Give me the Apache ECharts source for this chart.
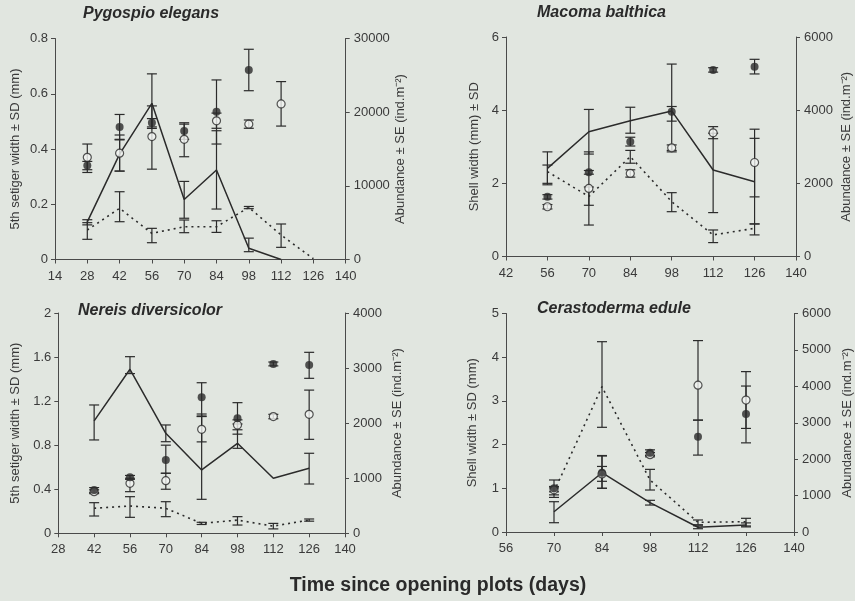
<!DOCTYPE html>
<html>
<head>
<meta charset="utf-8">
<script src="https://cdn.jsdelivr.net/npm/echarts@6/dist/echarts.min.js"></script>
<style>
  html, body { margin: 0; padding: 0; background: #e1e6e0; }
  #chart { width: 855px; height: 601px; }
</style>
</head>
<body>
<div id="chart"></div>
<script>
// Pygospio elegans
const pygDays = [28, 42, 56, 70, 84, 98, 112, 126]
const pygFilled = [0.34, 0.48, 0.495, 0.465, 0.535, 0.686, null, null]
const pygFilledLo = [0.315, 0.435, 0.48, 0.435, 0.418, 0.611, null, null]
const pygFilledHi = [0.355, 0.525, 0.51, 0.495, 0.65, 0.761, null, null]
const pygOpen = [0.37, 0.385, 0.445, 0.435, 0.502, 0.49, 0.563, null]
const pygOpenLo = [0.325, 0.32, 0.327, 0.372, 0.475, 0.475, 0.483, null]
const pygOpenHi = [0.418, 0.433, 0.556, 0.49, 0.53, 0.505, 0.644, null]
const pygSolid = [5100, 14300, 21200, 8150, 12150, 1520, 0, null]
const pygSolidLo = [4700, 12000, 17800, 5600, 6850, 1060, null, null]
const pygSolidHi = [5400, 16900, 25200, 10600, 17480, 2900, null, null]
const pygDashed = [4000, 6950, 3550, 4450, 4450, 7070, 3320, 100]
const pygDashedLo = [2740, 5130, 2280, 3640, 3680, 6900, 1650, null]
const pygDashedHi = [5000, 9200, 4230, 5360, 5260, 7200, 4820, null]

// Macoma balthica
const macDays = [56, 70, 84, 98, 112, 126]
const macFilled = [1.63, 2.30, 3.14, 3.96, 5.10, 5.19]
const macFilledLo = [1.57, 2.25, 3.02, 2.86, 5.04, 4.99]
const macFilledHi = [1.69, 2.35, 3.26, 5.26, 5.16, 5.39]
const macOpen = [1.36, 1.86, 2.27, 2.97, 3.38, 2.57]
const macOpenLo = [1.30, 0.86, 2.17, 2.90, 3.22, 1.63]
const macOpenHi = [1.42, 2.86, 2.37, 3.05, 3.55, 3.48]
const macSolid = [2410, 3410, 3710, 3980, 2365, 2045]
const macSolidLo = [1960, 2800, 3370, 3700, 1200, 890]
const macSolidHi = [2860, 4020, 4080, 4100, 3370, 3230]
const macDashed = [2320, 1640, 2730, 1500, 590, 770]
const macDashedLo = [2000, 1400, 2550, 1225, 380, 590]
const macDashedHi = [2500, 1900, 2900, 1745, 725, 890]

// Nereis diversicolor
const nerDays = [42, 56, 70, 84, 98, 112, 126]
const nerFilled = [0.393, 0.508, 0.665, 1.235, 1.044, 1.537, 1.528]
const nerFilledLo = [0.37, 0.49, 0.545, 1.065, 0.90, 1.52, 1.407]
const nerFilledHi = [0.415, 0.525, 0.80, 1.367, 1.186, 1.555, 1.643]
const nerOpen = [0.378, 0.454, 0.478, 0.944, 0.983, 1.06, 1.08]
const nerOpenLo = [0.36, 0.378, 0.40, 0.83, 0.94, 1.04, 0.853]
const nerOpenHi = [0.395, 0.50, 0.545, 1.06, 1.03, 1.08, 1.30]
const nerSolid = [2040, 2978, 1816, 1150, 1634, 999, 1180]
const nerSolidLo = [1695, 2900, 1663, 617, 1543, null, 895]
const nerSolidHi = [2330, 3207, 1967, 2166, 1985, null, 1453]
const nerDashed = [454, 496, 454, 180, 240, 130, 240]
const nerDashedLo = [314, 290, 302, 160, 150, 80, 220]
const nerDashedHi = [556, 665, 574, 200, 302, 180, 260]

// Cerastoderma edule
const cerDays = [70, 84, 98, 112, 126]
const cerFilled = [1.00, 1.357, 1.814, 2.18, 2.70]
const cerFilledLo = [0.85, 1.16, 1.75, 1.76, 2.04]
const cerFilledHi = [1.19, 1.50, 1.88, 2.56, 3.34]
const cerOpen = [0.965, 1.33, 1.77, 3.36, 3.02]
const cerOpenLo = [0.92, 1.00, 1.72, 2.56, 2.37]
const cerOpenHi = [1.01, 1.75, 1.82, 4.38, 3.67]
const cerSolid = [557, 1628, 805, 130, 192]
const cerSolidLo = [255, 1200, 740, 90, 140]
const cerSolidHi = [832, 2087, 870, 170, 250]
const cerDashed = [1107, 3990, 1428, 266, 283]
const cerDashedLo = [950, 2875, 1153, 200, 165]
const cerDashedHi = [1250, 5226, 1720, 330, 376]

const INK = '#2b2b2b'
const TXT = '#3a3a3a'
const FONT = '"Liberation Sans", Arial, sans-serif'
const abundName = 'Abundance \u00b1 SE (ind.m\u207b\u00b2)'

const pairs = (days, vals) => days.map((d, i) => [d, vals[i]]).filter(p => p[1] != null)

function errorBars(days, lo, hi, xi, yi) {
  return {
    type: 'custom',
    xAxisIndex: xi,
    yAxisIndex: yi,
    silent: true,
    z: 3,
    data: days.map((d, i) => [d, lo[i], hi[i]]).filter(r => r[1] != null && r[2] != null),
    renderItem: (params, api) => {
      const top = api.coord([api.value(0), api.value(2)])
      const bot = api.coord([api.value(0), api.value(1)])
      const w = 5
      const st = { stroke: INK, lineWidth: 1.2 }
      return {
        type: 'group',
        children: [
          { type: 'line', shape: { x1: top[0], y1: top[1], x2: bot[0], y2: bot[1] }, style: st },
          { type: 'line', shape: { x1: top[0] - w, y1: top[1], x2: top[0] + w, y2: top[1] }, style: st },
          { type: 'line', shape: { x1: bot[0] - w, y1: bot[1], x2: bot[0] + w, y2: bot[1] }, style: st }
        ]
      }
    }
  }
}

function panelSeries(p, k) {
  const xi = k, yl = k * 2, yr = k * 2 + 1
  return [
    { type: 'line', xAxisIndex: xi, yAxisIndex: yr, data: pairs(p.days, p.solid), symbol: 'none',
      lineStyle: { color: INK, width: 1.5 }, z: 2 },
    { type: 'line', xAxisIndex: xi, yAxisIndex: yr, data: pairs(p.days, p.dashed), symbol: 'none',
      lineStyle: { color: INK, width: 1.6, type: [2, 4] }, z: 2 },
    errorBars(p.days, p.solidLo, p.solidHi, xi, yr),
    errorBars(p.days, p.dashedLo, p.dashedHi, xi, yr),
    errorBars(p.days, p.openLo, p.openHi, xi, yl),
    errorBars(p.days, p.filledLo, p.filledHi, xi, yl),
    { type: 'scatter', xAxisIndex: xi, yAxisIndex: yl, data: pairs(p.days, p.open), symbolSize: 8,
      itemStyle: { color: '#f3f5f2', borderColor: INK, borderWidth: 1.2 }, z: 4 },
    { type: 'scatter', xAxisIndex: xi, yAxisIndex: yl, data: pairs(p.days, p.filled), symbolSize: 8,
      itemStyle: { color: INK }, z: 5 }
  ]
}

const panels = [
  { title: 'Pygospio elegans', tl: 83, tt: 6,
    grid: { left: 55, top: 38.5, width: 290.7, height: 221 },
    xMin: 14, leftMax: 0.8, leftStep: 0.2, rightMax: 30000, rightStep: 10000,
    leftName: '5th setiger width \u00b1 SD (mm)', leftGap: 33, rightGap: 46,
    days: pygDays, filled: pygFilled, filledLo: pygFilledLo, filledHi: pygFilledHi,
    open: pygOpen, openLo: pygOpenLo, openHi: pygOpenHi,
    solid: pygSolid, solidLo: pygSolidLo, solidHi: pygSolidHi,
    dashed: pygDashed, dashedLo: pygDashedLo, dashedHi: pygDashedHi },
  { title: 'Macoma balthica', tl: 537, tt: 5,
    grid: { left: 506, top: 37, width: 290, height: 219.5 },
    xMin: 42, leftMax: 6, leftStep: 2, rightMax: 6000, rightStep: 2000,
    leftName: 'Shell width (mm) \u00b1 SD', leftGap: 25, rightGap: 44,
    days: macDays, filled: macFilled, filledLo: macFilledLo, filledHi: macFilledHi,
    open: macOpen, openLo: macOpenLo, openHi: macOpenHi,
    solid: macSolid, solidLo: macSolidLo, solidHi: macSolidHi,
    dashed: macDashed, dashedLo: macDashedLo, dashedHi: macDashedHi },
  { title: 'Nereis diversicolor', tl: 78, tt: 303,
    grid: { left: 58.3, top: 313, width: 286.7, height: 220.3 },
    xMin: 28, leftMax: 2, leftStep: 0.4, rightMax: 4000, rightStep: 1000,
    leftName: '5th setiger width \u00b1 SD (mm)', leftGap: 36, rightGap: 46,
    days: nerDays, filled: nerFilled, filledLo: nerFilledLo, filledHi: nerFilledHi,
    open: nerOpen, openLo: nerOpenLo, openHi: nerOpenHi,
    solid: nerSolid, solidLo: nerSolidLo, solidHi: nerSolidHi,
    dashed: nerDashed, dashedLo: nerDashedLo, dashedHi: nerDashedHi },
  { title: 'Cerastoderma edule', tl: 537, tt: 301,
    grid: { left: 506, top: 313.5, width: 294, height: 218.5 },
    xMin: 56, leftMax: 5, leftStep: 1, rightMax: 6000, rightStep: 1000,
    leftName: 'Shell width \u00b1 SD (mm)', leftGap: 27, rightGap: 47,
    days: cerDays, filled: cerFilled, filledLo: cerFilledLo, filledHi: cerFilledHi,
    open: cerOpen, openLo: cerOpenLo, openHi: cerOpenHi,
    solid: cerSolid, solidLo: cerSolidLo, solidHi: cerSolidHi,
    dashed: cerDashed, dashedLo: cerDashedLo, dashedHi: cerDashedHi }
]

const axisLine = { show: true, lineStyle: { color: '#4a4a4a', width: 1 } }
const axisTick = { show: true, length: 4, lineStyle: { color: '#4a4a4a' } }
const axisLabel = { color: TXT, fontSize: 13, fontFamily: FONT }
const nameStyle = { color: TXT, fontSize: 13, fontFamily: FONT }

const chart = echarts.init(document.getElementById('chart'), null, { renderer: 'canvas' })

const option = {
  backgroundColor: '#e1e6e0',
  animation: false,
  title: panels.map(p => ({
    text: p.title, left: p.tl, top: p.tt, padding: 0,
    textStyle: { fontSize: 16, fontWeight: 'bold', fontStyle: 'italic', color: '#2a2a2a', fontFamily: FONT }
  })),
  grid: panels.map(p => p.grid),
  xAxis: panels.map((p, k) => ({
    type: 'value', gridIndex: k, min: p.xMin, max: 140, interval: 14,
    axisLine, axisTick, splitLine: { show: false },
    axisLabel: { ...axisLabel, margin: 10 }
  })),
  yAxis: panels.flatMap((p, k) => [
    { type: 'value', gridIndex: k, position: 'left', min: 0, max: p.leftMax, interval: p.leftStep,
      name: p.leftName, nameLocation: 'middle', nameRotate: 90, nameGap: p.leftGap, nameTextStyle: nameStyle,
      axisLine, axisTick, splitLine: { show: false }, axisLabel: { ...axisLabel, margin: 7 } },
    { type: 'value', gridIndex: k, position: 'right', min: 0, max: p.rightMax, interval: p.rightStep,
      name: abundName, nameLocation: 'middle', nameRotate: 90, nameGap: p.rightGap, nameTextStyle: nameStyle,
      axisLine, axisTick, splitLine: { show: false },
      axisLabel: { ...axisLabel, margin: 8, formatter: v => String(v) } }
  ]),
  graphic: [{
    type: 'text', x: 438, y: 586,
    style: { text: 'Time since opening plots (days)', align: 'center', verticalAlign: 'middle',
      font: 'bold 19.5px "Liberation Sans", Arial, sans-serif', fill: '#2a2a2a' }
  }],
  series: panels.flatMap((p, k) => panelSeries(p, k))
}

chart.setOption(option)
</script>
</body>
</html>
